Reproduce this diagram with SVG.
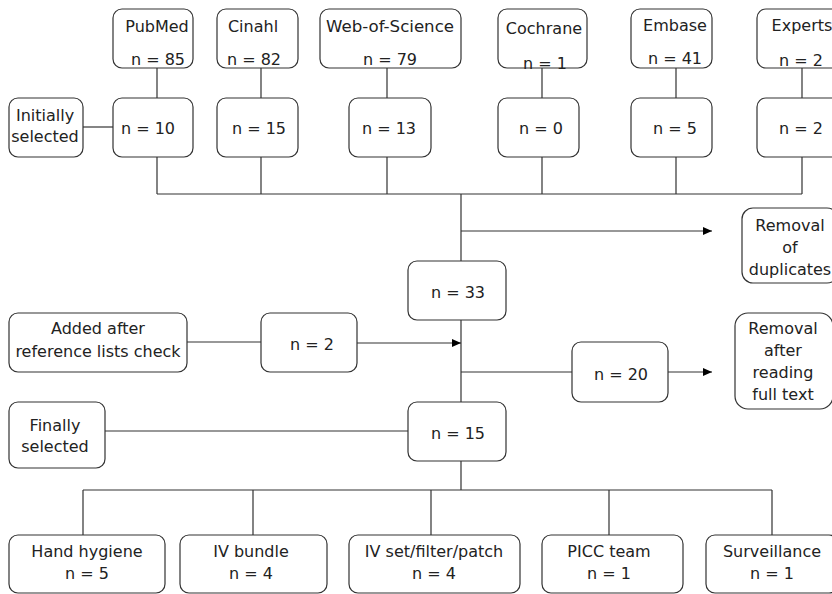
<svg xmlns="http://www.w3.org/2000/svg" width="832" height="594" viewBox="0 0 832 594">
<defs>
<style>
.b{fill:#fff;stroke:#333;stroke-width:1.2}
.t{font-family:"DejaVu Sans",sans-serif;font-size:16px;fill:#222;text-anchor:middle}
.c{fill:none;stroke:#333;stroke-width:1.2}
</style>
<marker id="ah" markerWidth="10" markerHeight="8" refX="9" refY="4" orient="auto" markerUnits="userSpaceOnUse">
<path d="M0,0 L9,4 L0,8 Z" fill="#000"/>
</marker>
</defs>
<g id="connectors">
<path class="c" d="M157,68 V98 M261,68 V98 M387,68 V98 M542,68 V98 M676,68 V98 M802,68 V98"/>
<path class="c" d="M83,127 H113"/>
<path class="c" d="M157,157 V194 M261,157 V194 M387,157 V194 M542,157 V194 M676,157 V194 M802,157 V194 M157,194 H802"/>
<path class="c" d="M461,194 V261"/>
<path class="c" d="M461,231 H712" marker-end="url(#ah)"/>
<path class="c" d="M461,320 V402"/>
<path class="c" d="M187,342 H261"/>
<path class="c" d="M357,343 H461" marker-end="url(#ah)"/>
<path class="c" d="M461,372 H572"/>
<path class="c" d="M668,372 H712" marker-end="url(#ah)"/>
<path class="c" d="M105,431 H408"/>
<path class="c" d="M461,461 V490 M83,490 H772 M83,490 V535 M253,490 V535 M431,490 V535 M609,490 V535 M772,490 V535"/>
</g>
<g id="pubmed"><rect class="b" x="113" y="9" width="80" height="59" rx="9"/><text class="t" x="157" y="32">PubMed</text><text class="t" x="158" y="65">n = 85</text></g>
<g id="cinahl"><rect class="b" x="217" y="9" width="81" height="59" rx="9"/><text class="t" x="253" y="32">Cinahl</text><text class="t" x="254" y="65">n = 82</text></g>
<g id="wos"><rect class="b" x="320" y="9" width="141" height="59" rx="9"/><text class="t" x="390" y="32" textLength="128" lengthAdjust="spacingAndGlyphs">Web-of-Science</text><text class="t" x="390" y="65">n = 79</text></g>
<g id="cochrane"><rect class="b" x="498" y="9" width="89" height="59" rx="9"/><text class="t" x="544" y="34">Cochrane</text><text class="t" x="545" y="69">n = 1</text></g>
<g id="embase"><rect class="b" x="631" y="9" width="81" height="59" rx="9"/><text class="t" x="675" y="31">Embase</text><text class="t" x="675" y="64">n = 41</text></g>
<g id="experts"><rect class="b" x="757" y="9" width="89" height="59" rx="9"/><text class="t" x="802" y="31">Experts</text><text class="t" x="801" y="66">n = 2</text></g>
<g id="initially"><rect class="b" x="9" y="98" width="74" height="59" rx="9"/><text class="t" x="45" y="121">Initially</text><text class="t" x="45" y="142">selected</text></g>
<g id="pubmed-sel"><rect class="b" x="113" y="98" width="80" height="59" rx="9"/><text class="t" x="148" y="134">n = 10</text></g>
<g id="cinahl-sel"><rect class="b" x="217" y="98" width="81" height="59" rx="9"/><text class="t" x="259" y="134">n = 15</text></g>
<g id="wos-sel"><rect class="b" x="349" y="98" width="82" height="59" rx="9"/><text class="t" x="389" y="134">n = 13</text></g>
<g id="cochrane-sel"><rect class="b" x="498" y="98" width="81" height="59" rx="9"/><text class="t" x="541" y="134">n = 0</text></g>
<g id="embase-sel"><rect class="b" x="631" y="98" width="81" height="59" rx="9"/><text class="t" x="675" y="134">n = 5</text></g>
<g id="experts-sel"><rect class="b" x="757" y="98" width="89" height="59" rx="9"/><text class="t" x="801" y="134">n = 2</text></g>
<g id="dup"><rect class="b" x="742" y="208" width="96" height="75" rx="11"/><text class="t" x="790" y="231">Removal</text><text class="t" x="790" y="253">of</text><text class="t" x="790" y="275">duplicates</text></g>
<g id="n33"><rect class="b" x="408" y="261" width="98" height="59" rx="9"/><text class="t" x="458" y="298">n = 33</text></g>
<g id="added"><rect class="b" x="9" y="313" width="178" height="59" rx="9"/><text class="t" x="98" y="334">Added after</text><text class="t" x="98" y="357">reference lists check</text></g>
<g id="n2"><rect class="b" x="261" y="313" width="96" height="59" rx="9"/><text class="t" x="312" y="350">n = 2</text></g>
<g id="n20"><rect class="b" x="572" y="342" width="96" height="60" rx="9"/><text class="t" x="621" y="380">n = 20</text></g>
<g id="fulltext"><rect class="b" x="735" y="313" width="98" height="96" rx="13"/><text class="t" x="783" y="334">Removal</text><text class="t" x="783" y="356">after</text><text class="t" x="783" y="378">reading</text><text class="t" x="783" y="400">full text</text></g>
<g id="finally"><rect class="b" x="9" y="402" width="96" height="66" rx="9"/><text class="t" x="55" y="431">Finally</text><text class="t" x="55" y="452">selected</text></g>
<g id="n15"><rect class="b" x="408" y="402" width="98" height="59" rx="9"/><text class="t" x="458" y="439">n = 15</text></g>
<g id="hand"><rect class="b" x="9" y="535" width="156" height="58" rx="9"/><text class="t" x="87" y="557">Hand hygiene</text><text class="t" x="87" y="579">n = 5</text></g>
<g id="bundle"><rect class="b" x="180" y="535" width="147" height="58" rx="9"/><text class="t" x="251" y="557">IV bundle</text><text class="t" x="251" y="579">n = 4</text></g>
<g id="set"><rect class="b" x="349" y="535" width="171" height="58" rx="9"/><text class="t" x="434" y="557">IV set/filter/patch</text><text class="t" x="434" y="579">n = 4</text></g>
<g id="picc"><rect class="b" x="542" y="535" width="141" height="58" rx="9"/><text class="t" x="609" y="557">PICC team</text><text class="t" x="609" y="579">n = 1</text></g>
<g id="surv"><rect class="b" x="706" y="535" width="132" height="58" rx="9"/><text class="t" x="772" y="557">Surveillance</text><text class="t" x="772" y="579">n = 1</text></g>
</svg>
